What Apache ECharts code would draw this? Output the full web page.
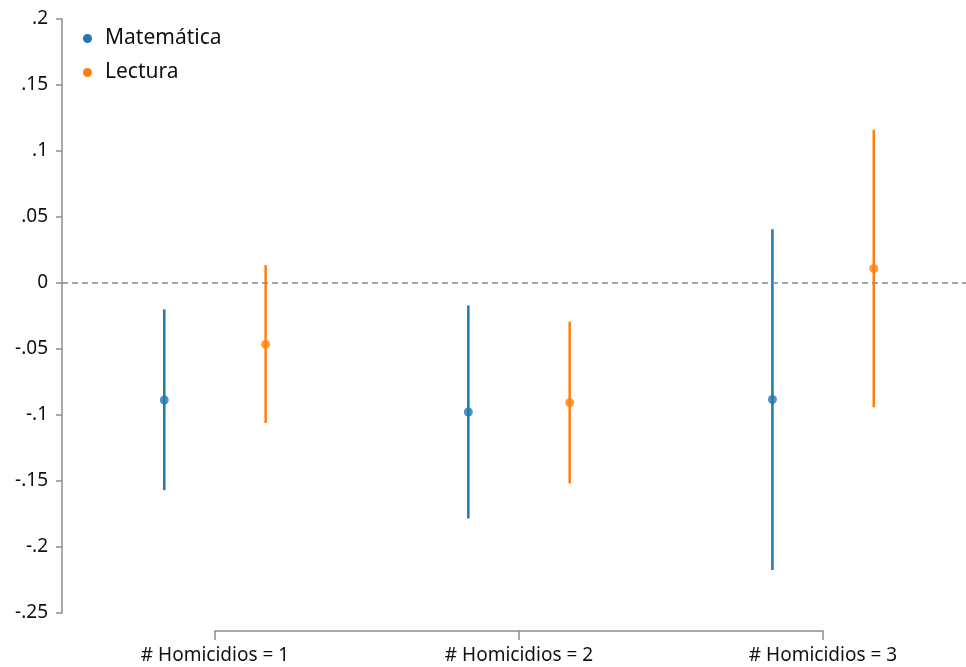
<!DOCTYPE html>
<html>
<head>
<meta charset="utf-8">
<script src="https://cdn.jsdelivr.net/npm/echarts@6/dist/echarts.min.js"></script>
<style>
  html, body { margin: 0; padding: 0; background: #fff; }
  #chart { width: 966px; height: 667px; }
</style>
</head>
<body>
<div id="chart"></div>
<script>
// Categories (x positions 1..3) and tick labels
const categories = [1, 2, 3];
const categoryLabels = ['# Homicidios = 1', '# Homicidios = 2', '# Homicidios = 3'];

// Point estimates and 95% intervals
const mathEst = [-0.0886, -0.0977, -0.0883];
const mathLo  = [-0.1569, -0.1783, -0.2174];
const mathHi  = [-0.0200, -0.0170, 0.0408];

const readEst = [-0.0465, -0.0906, 0.0110];
const readLo  = [-0.1060, -0.1519, -0.0942];
const readHi  = [0.0135, -0.0293, 0.1161];

// y-axis ticks
const yTicks = [-0.25, -0.2, -0.15, -0.1, -0.05, 0, 0.05, 0.1, 0.15, 0.2];

const BLUE = '#1f77b4';
const ORANGE = '#ff7f0e';
const AXIS = '#8c8c8c';
const FONT = '"Noto Sans", sans-serif';
const shift = 1 / 6;

function fmtTick(v) {
  if (Math.abs(v) < 1e-9) return '0';
  let s = String(Math.round(v * 100) / 100);
  return s.replace(/^(-?)0\./, '$1.');
}

function ciData(lo, hi, off) {
  return categories.map((c, i) => [c + off, lo[i], hi[i]]);
}
function ptData(est, off) {
  return categories.map((c, i) => [c + off, est[i]]);
}

function ciSeries(name, data, color) {
  return {
    type: 'custom',
    name: name,
    xAxisIndex: 0, yAxisIndex: 0,
    data: data,
    itemStyle: { color: color },
    renderItem: function (params, api) {
      const a = api.coord([api.value(0), api.value(1)]);
      const b = api.coord([api.value(0), api.value(2)]);
      return {
        type: 'line',
        shape: { x1: a[0], y1: a[1], x2: b[0], y2: b[1] },
        style: { stroke: color, lineWidth: 2.5 }
      };
    },
    z: 2,
    silent: true
  };
}

const chart = echarts.init(document.getElementById('chart'), null, { renderer: 'canvas' });

chart.setOption({
  backgroundColor: '#fff',
  animation: false,
  color: [BLUE, ORANGE],
  textStyle: { fontFamily: FONT },
  legend: {
    orient: 'vertical',
    left: 78,
    top: 23,
    itemGap: 13,
    itemWidth: 9,
    itemHeight: 9,
    data: [
      { name: 'Matemática', icon: 'circle', itemStyle: { color: BLUE } },
      { name: 'Lectura', icon: 'circle', itemStyle: { color: ORANGE } }
    ],
    textStyle: { fontFamily: FONT, fontSize: 21, color: '#111', padding: [0, 0, 0, 8] }
  },
  grid: [
    { left: 62, top: 19, width: 904, height: 594 },
    { left: 215, top: 631, width: 608, height: 0 }
  ],
  xAxis: [
    {
      gridIndex: 0,
      type: 'value',
      min: 0.497,
      max: 3.47,
      show: false
    },
    {
      gridIndex: 1,
      type: 'value',
      min: 1,
      max: 3,
      interval: 1,
      position: 'bottom',
      axisLine: { show: true, lineStyle: { color: AXIS, width: 1.5 } },
      axisTick: { show: true, length: 9, lineStyle: { color: AXIS, width: 1.5 } },
      splitLine: { show: false },
      axisLabel: {
        margin: 15,
        fontFamily: FONT,
        fontSize: 19,
        color: '#111',
        showMinLabel: true,
        showMaxLabel: true,
        formatter: function (v) {
          const i = categories.indexOf(Math.round(v));
          return i >= 0 ? categoryLabels[i] : '';
        }
      }
    }
  ],
  yAxis: [
    {
      gridIndex: 0,
      type: 'value',
      min: -0.25,
      max: 0.2,
      interval: 0.05,
      axisLine: { show: true, lineStyle: { color: AXIS, width: 1.5 } },
      axisTick: { show: true, length: 6, lineStyle: { color: AXIS, width: 1.5 } },
      splitLine: { show: false },
      axisLabel: {
        margin: 14,
        fontFamily: FONT,
        fontSize: 19,
        color: '#111',
        formatter: fmtTick
      }
    },
    { gridIndex: 1, type: 'value', show: false }
  ],
  series: [
    ciSeries('Matemática', ciData(mathLo, mathHi, -shift), BLUE),
    ciSeries('Lectura', ciData(readLo, readHi, shift), ORANGE),
    {
      type: 'scatter',
      name: 'Matemática',
      xAxisIndex: 0, yAxisIndex: 0,
      data: ptData(mathEst, -shift),
      symbol: 'circle',
      symbolSize: 9,
      itemStyle: { color: BLUE },
      z: 3,
      markLine: {
        silent: true,
        symbol: 'none',
        label: { show: false },
        lineStyle: { color: '#878787', type: [6, 4], width: 1.5 },
        data: [{ yAxis: 0 }]
      }
    },
    {
      type: 'scatter',
      name: 'Lectura',
      xAxisIndex: 0, yAxisIndex: 0,
      data: ptData(readEst, shift),
      symbol: 'circle',
      symbolSize: 9,
      itemStyle: { color: ORANGE },
      z: 3
    }
  ]
});
</script>
</body>
</html>
